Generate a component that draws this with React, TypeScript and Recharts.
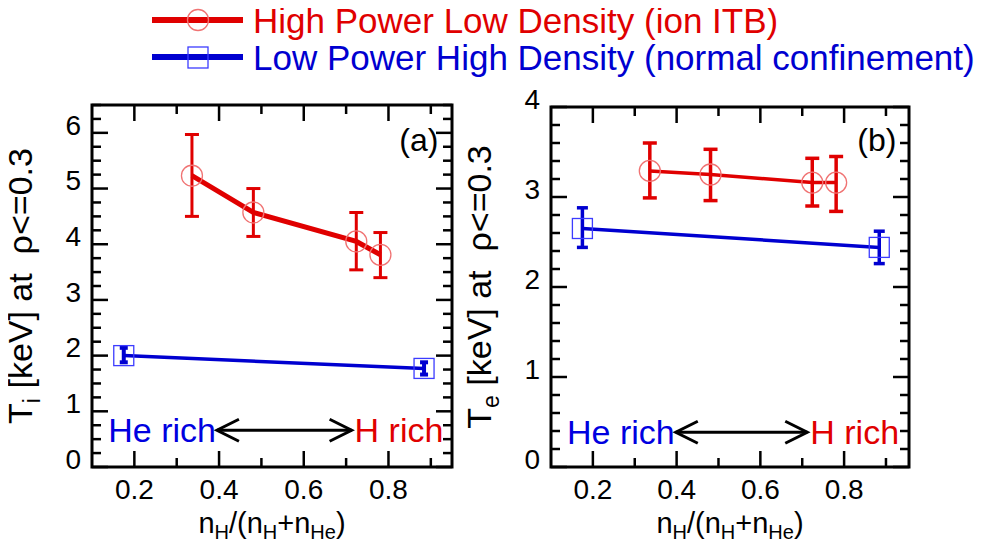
import React from 'react';
import {
  ComposedChart,
  Scatter,
  ErrorBar,
  XAxis,
  YAxis,
  ReferenceLine,
  ReferenceDot,
  Label,
} from 'recharts';

const FONT = '"Liberation Sans", Arial, Helvetica, sans-serif';
const RED = '#e00000';
const RED_MARKER = '#f07373';
const BLUE = '#0000d0';
const BLUE_MARKER = '#3c3cff';

// hydrogen fraction n_H/(n_H+n_He) of each discharge
const itbFraction = [0.336, 0.481, 0.724, 0.781];
const normalFraction = [0.175, 0.884];

// (a) central ion temperature [keV], errors as [lower, upper]
const itbTi = [5.23, 4.57, 4.05, 3.81];
const itbTiErr = [[0.73, 0.74], [0.43, 0.43], [0.51, 0.52], [0.41, 0.4]];
const normalTi = [2.0, 1.77];
const normalTiErr = [[0.12, 0.14], [0.11, 0.11]];

// (b) central electron temperature [keV]
const itbTe = [3.29, 3.25, 3.16, 3.16];
const itbTeErr = [[0.3, 0.31], [0.29, 0.28], [0.26, 0.27], [0.32, 0.29]];
const normalTe = [2.65, 2.44];
const normalTeErr = [[0.21, 0.23], [0.18, 0.18]];

// axis ticks
const xMajor = [0.2, 0.4, 0.6, 0.8];
const xMinor = [0.3, 0.5, 0.7, 0.9];
const tiMajor = [0, 1, 2, 3, 4, 5, 6];
const teMajor = [0, 1, 2, 3, 4];

const legendLabels = [
  'High Power Low Density (ion ITB)',
  'Low Power High Density (normal confinement)',
];

const stepTicks = (max: number, step: number) => {
  const out: number[] = [];
  for (let i = 0; i * step <= max + 1e-9; i++) out.push(+(i * step).toFixed(2));
  return out;
};

const toPoints = (xs: number[], ys: number[], errs: number[][]) =>
  xs.map((x, i) => ({ x, y: ys[i], err: errs[i] }));

const HEIGHT = 550;
const X_MIN = 0.1;
const Y_AXIS_W = 60;
const X_AXIS_H = 40;
const MAJOR_LEN = 16;
const MINOR_LEN = 9;
const TICK_W = 2.5;
const TICK_FONT = 28;

const xTicks = [...xMajor, ...xMinor].sort((a, b) => a - b);

const bottomLabel = (p: any) => (
  <text x={p.x} y={p.y + 22} dy="0.35em" textAnchor="middle" fontSize={TICK_FONT} fontFamily={FONT} fill="#000">
    {p.payload.value.toFixed(1)}
  </text>
);

const leftLabel = (p: any) => (
  <text x={p.x - 11} y={p.y - 8} dy="0.35em" textAnchor="end" fontSize={TICK_FONT} fontFamily={FONT} fill="#000">
    {p.payload.value}
  </text>
);

type Margin = { top: number; right: number; bottom: number; left: number };

// box frame with inward major/minor ticks on all four sides, laid over the
// plot area that the chart reserves from its margins and axis sizes
const FrameOverlay = ({ width, margin, xMax, yMax, yTicks, yMajor }: {
  width: number;
  margin: Margin;
  xMax: number;
  yMax: number;
  yTicks: number[];
  yMajor: number[];
}) => {
  const left = margin.left + Y_AXIS_W;
  const right = width - margin.right;
  const top = margin.top;
  const bottom = HEIGHT - margin.bottom - X_AXIS_H;
  const px = (v: number) => left + ((v - X_MIN) / (xMax - X_MIN)) * (right - left);
  const py = (v: number) => bottom - (v / yMax) * (bottom - top);
  return (
    <svg width={width} height={HEIGHT} style={{ position: 'absolute', left: 0, top: 0, pointerEvents: 'none' }}>
      <g stroke="#000" fill="none">
        {xTicks.map((v) => {
          const len = xMajor.includes(v) ? MAJOR_LEN : MINOR_LEN;
          return (
            <g key={`x${v}`} strokeWidth={TICK_W}>
              <line x1={px(v)} y1={bottom} x2={px(v)} y2={bottom - len} />
              <line x1={px(v)} y1={top} x2={px(v)} y2={top + len} />
            </g>
          );
        })}
        {yTicks.map((v) => {
          const len = yMajor.includes(v) ? MAJOR_LEN : MINOR_LEN;
          return (
            <g key={`y${v}`} strokeWidth={TICK_W}>
              <line x1={left} y1={py(v)} x2={left + len} y2={py(v)} />
              <line x1={right} y1={py(v)} x2={right - len} y2={py(v)} />
            </g>
          );
        })}
        <rect x={left} y={top} width={right - left} height={bottom - top} strokeWidth={3} />
      </g>
    </svg>
  );
};

const xTitle = (p: any) => {
  const { x, y, width } = p.viewBox;
  return (
    <text x={x + width / 2} y={y + 66} textAnchor="middle" fontSize={29} fontFamily={FONT} fill="#000">
      n<tspan fontSize={20} dy={6}>H</tspan>
      <tspan dy={-6}>/(n</tspan>
      <tspan fontSize={20} dy={6}>H</tspan>
      <tspan dy={-6}>+n</tspan>
      <tspan fontSize={20} dy={6}>He</tspan>
      <tspan dy={-6}>)</tspan>
    </text>
  );
};

const yTitle = (sub: string) => (p: any) => {
  const { x, y, width, height } = p.viewBox;
  const bx = x + width - 60;
  const cy = y + height / 2;
  return (
    <text
      x={bx}
      y={cy}
      transform={`rotate(-90 ${bx} ${cy})`}
      textAnchor="middle"
      fontSize={34}
      fontFamily={FONT}
      fill="#000"
      style={{ whiteSpace: 'pre' }}
    >
      T<tspan fontSize={23} dy={8}>{sub}</tspan>
      <tspan dy={-8}>{' [keV] at  \u03c1<=0.3'}</tspan>
    </text>
  );
};

const DoubleArrow = (p: any) => {
  const { x1, y1, x2, y2 } = p;
  const h = 22;
  const w = 11;
  return (
    <g stroke="#000" strokeWidth={3} fill="none">
      <line x1={x1} y1={y1} x2={x2} y2={y2} />
      <polyline points={`${x1 + h},${y1 - w} ${x1},${y1} ${x1 + h},${y1 + w}`} />
      <polyline points={`${x2 - h},${y2 - w} ${x2},${y2} ${x2 - h},${y2 + w}`} />
    </g>
  );
};

const textAt = (text: string, color: string, anchor: 'start' | 'end', dx: number, dy: number, size: number) => (p: any) => (
  <text x={p.cx + dx} y={p.cy + dy} textAnchor={anchor} fontSize={size} fontFamily={FONT} fill={color}>
    {text}
  </text>
);

type SeriesStyle = { line: number; bar: number; cap: number };
type Point = { x: number; y: number; err: number[] };

type PanelProps = {
  width: number;
  margin: Margin;
  xMax: number;
  yMax: number;
  yStep: number;
  yMajor: number[];
  sub: string;
  tag: string;
  tagAt: [number, number];
  arrow: [number, number, number];
  itb: Point[];
  normal: Point[];
  itbStyle: SeriesStyle;
  normalStyle: SeriesStyle;
};

const Panel = ({ width, margin, xMax, yMax, yStep, yMajor, sub, tag, tagAt, arrow, itb, normal, itbStyle, normalStyle }: PanelProps) => {
  const yTicks = stepTicks(yMax, yStep);
  const [ax1, ax2, ay] = arrow;
  return (
    <div style={{ position: 'relative', width, height: HEIGHT }}>
      <ComposedChart width={width} height={HEIGHT} margin={margin}>
        <XAxis
          dataKey="x"
          type="number"
          domain={[X_MIN, xMax]}
          ticks={xMajor}
          interval={0}
          height={X_AXIS_H}
          tickSize={0}
          tickMargin={0}
          tickLine={false}
          axisLine={false}
          tick={bottomLabel}
        >
          <Label content={xTitle} />
        </XAxis>
        <YAxis
          dataKey="y"
          type="number"
          domain={[0, yMax]}
          ticks={yMajor}
          interval={0}
          width={Y_AXIS_W}
          tickSize={0}
          tickMargin={0}
          tickLine={false}
          axisLine={false}
          tick={leftLabel}
        >
          <Label content={yTitle(sub)} />
        </YAxis>

        <ReferenceLine segment={[{ x: ax1, y: ay }, { x: ax2, y: ay }]} shape={DoubleArrow} />
        <ReferenceDot x={ax1} y={ay} r={0} shape={textAt('He rich', '#0000e0', 'end', -1, 12, 34)} />
        <ReferenceDot x={ax2} y={ay} r={0} shape={textAt('H rich', RED, 'start', 3, 12, 34)} />
        <ReferenceDot x={tagAt[0]} y={tagAt[1]} r={0} shape={textAt(tag, '#000', 'end', 0, 0, 32)} />

        <Scatter
          data={normal}
          dataKey="y"
          isAnimationActive={false}
          line={{ stroke: BLUE, strokeWidth: normalStyle.line }}
          shape={(p: any) => (
            <rect x={p.cx - 10} y={p.cy - 10} width={20} height={20} fill="none" stroke={BLUE_MARKER} strokeWidth={1.3} />
          )}
        >
          <ErrorBar dataKey="err" direction="y" width={normalStyle.cap} stroke={BLUE} strokeWidth={normalStyle.bar} isAnimationActive={false} />
        </Scatter>
        <Scatter
          data={itb}
          dataKey="y"
          isAnimationActive={false}
          line={{ stroke: RED, strokeWidth: itbStyle.line }}
          shape={(p: any) => <circle cx={p.cx} cy={p.cy} r={10.5} fill="none" stroke={RED_MARKER} strokeWidth={1.3} />}
        >
          <ErrorBar dataKey="err" direction="y" width={itbStyle.cap} stroke={RED} strokeWidth={itbStyle.bar} isAnimationActive={false} />
        </Scatter>
      </ComposedChart>
      <FrameOverlay width={width} margin={margin} xMax={xMax} yMax={yMax} yTicks={yTicks} yMajor={yMajor} />
    </div>
  );
};

const Legend = () => (
  <svg width={988} height={80} style={{ position: 'absolute', left: 0, top: 0 }}>
    <line x1={152} y1={20} x2={243} y2={20} stroke={RED} strokeWidth={6} />
    <circle cx={198} cy={20} r={10.5} fill="none" stroke={RED_MARKER} strokeWidth={1.3} />
    <text x={253} y={33} fontSize={35} fontFamily={FONT} fill={RED}>
      {legendLabels[0]}
    </text>
    <line x1={152} y1={57} x2={243} y2={57} stroke={BLUE} strokeWidth={6} />
    <rect x={188} y={47} width={20} height={21} fill="none" stroke={BLUE_MARKER} strokeWidth={1.3} />
    <text x={253} y={70} fontSize={35} fontFamily={FONT} fill={BLUE}>
      {legendLabels[1]}
    </text>
  </svg>
);

export default function App() {
  return (
    <div style={{ margin: -8, width: 988, height: 550, position: 'relative' }}>
      <div style={{ display: 'flex' }}>
        <Panel
          width={455}
          margin={{ top: 105, right: 3, bottom: 43, left: 32 }}
          xMax={0.95}
          yMax={6.5}
          yStep={0.25}
          yMajor={tiMajor}
          sub="i"
          tag="(a)"
          tagAt={[0.918, 5.67]}
          arrow={[0.395, 0.713, 0.66]}
          itb={toPoints(itbFraction, itbTi, itbTiErr)}
          normal={toPoints(normalFraction, normalTi, normalTiErr)}
          itbStyle={{ line: 5, bar: 3, cap: 7 }}
          normalStyle={{ line: 3.5, bar: 4, cap: 4 }}
        />
        <Panel
          width={533}
          margin={{ top: 107, right: 79, bottom: 43, left: 36 }}
          xMax={0.955}
          yMax={4}
          yStep={0.2}
          yMajor={teMajor}
          sub="e"
          tag="(b)"
          tagAt={[0.925, 3.51]}
          arrow={[0.398, 0.712, 0.386]}
          itb={toPoints(itbFraction, itbTe, itbTeErr)}
          normal={toPoints(normalFraction, normalTe, normalTeErr)}
          itbStyle={{ line: 3.5, bar: 3.5, cap: 7 }}
          normalStyle={{ line: 3.5, bar: 3.5, cap: 5.5 }}
        />
      </div>
      <Legend />
    </div>
  );
}
